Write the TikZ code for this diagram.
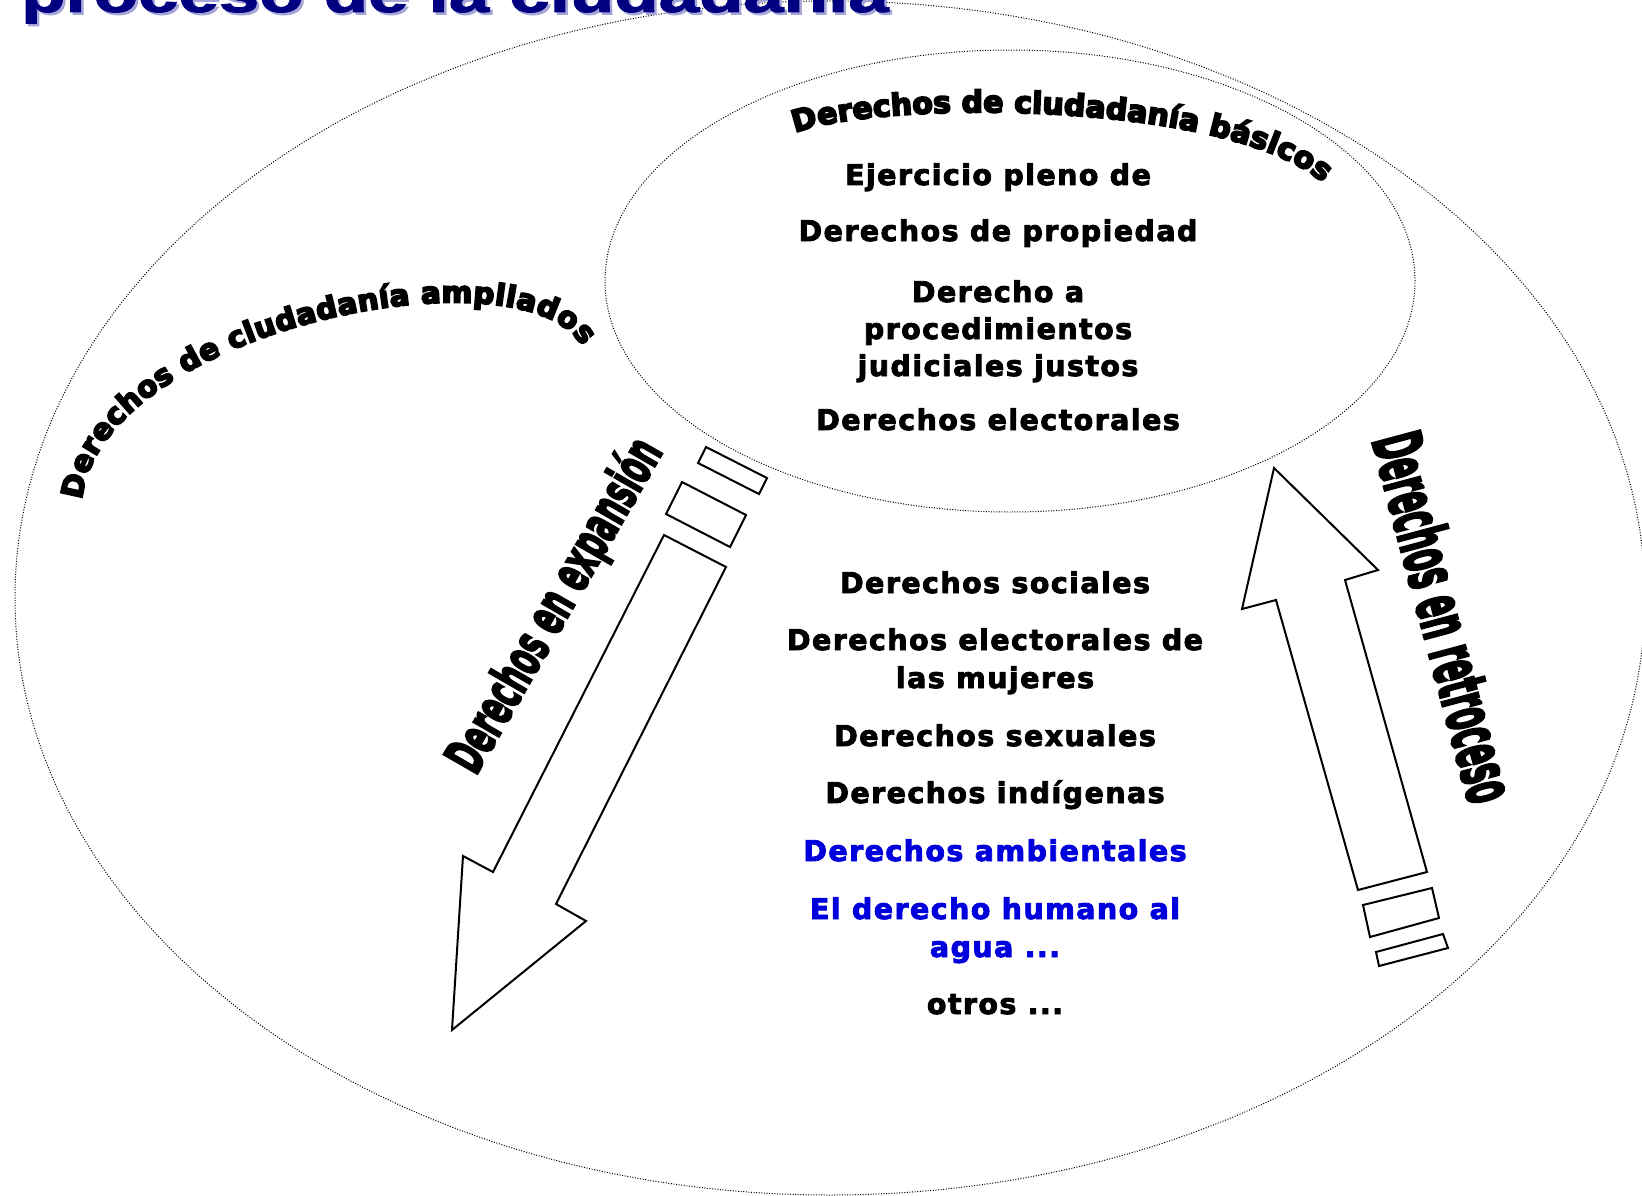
\documentclass[tikz,border=0pt]{standalone}
\usepackage{fontspec}
\usepackage{graphicx}
\setmainfont{DejaVu Sans}
\newfontfamily\titlefont[FakeBold=1.5]{Liberation Sans}
\newfontfamily\itemfont[LetterSpace=5, FakeBold=3]{DejaVu Sans}
\newfontfamily\archfont[FakeBold=6]{DejaVu Sans}
\newfontfamily\condfont[FakeBold=4.5]{DejaVu Sans}
\usetikzlibrary{decorations.text}
\definecolor{navy}{RGB}{0,0,128}
\definecolor{navyshadow}{RGB}{165,165,215}
\definecolor{itemblue}{RGB}{0,0,220}
\newcommand\arcfontA{\archfont\bfseries\fontsize{30}{30}\selectfont}
\newcommand\arcfontB{\archfont\bfseries\fontsize{29.5}{30}\selectfont}
\begin{document}
\begin{tikzpicture}[x=1pt,y=-1pt,
  ring/.style={draw=black, line width=1pt, dash pattern=on 1pt off 1.6pt},
  hollow/.style={draw=black, line width=2pt, fill=white, line join=miter},
  item/.style={anchor=base, inner sep=0pt, font=\itemfont\bfseries\fontsize{28.5}{30}\selectfont},
  blueitem/.style={item, text=itemblue},
  bigword/.style={inner sep=0pt}]
\useasboundingbox (0,0) rectangle (1642,1196);
\clip (0,0) rectangle (1642,1196);

% ellipses
\draw[ring] (830,598) ellipse [x radius=815pt, y radius=597pt];
\draw[ring] (1010,281) ellipse [x radius=405pt, y radius=231pt];

% title (cut at the top)
\node[anchor=base west, inner sep=0pt, text=navyshadow] (titleshadow) at (23.5,14.5)
  {\scalebox{1.32}[1]{\titlefont\bfseries\fontsize{55}{60}\selectfont proceso de la ciudadanía}};
\node[anchor=base west, inner sep=0pt, text=navy] (title) at (21,12)
  {\scalebox{1.32}[1]{\titlefont\bfseries\fontsize{55}{60}\selectfont proceso de la ciudadanía}};

% arched texts
\path[decorate, decoration={text along path, text align={fit to path},
  text={|\arcfontA|Derechos de ciudadanía básicos}}]
  (795,133) .. controls (880,100) and (1225,100) .. (1322,182);
\path[decorate, decoration={text along path, text align={fit to path},
  text={|\arcfontB|Derechos de ciudadanía ampliados}}]
  (82,500) .. controls (100,330) and (523,245) .. (582,346);

% basic rights
\node[item] (ej)    at (998,185) {Ejercicio pleno de};
\node[item] (prop)  at (998,241) {Derechos de propiedad};
\node[item] (proc1) at (998,302) {Derecho a};
\node[item] (proc2) at (998,339) {procedimientos};
\node[item] (proc3) at (998,376) {judiciales justos};
\node[item] (elec)  at (998,430) {Derechos electorales};

% extended rights
\node[item] (soc)   at (995,593) {Derechos sociales};
\node[item] (muj1)  at (995,650) {Derechos electorales de};
\node[item] (muj2)  at (995,688) {las mujeres};
\node[item] (sex)   at (995,746) {Derechos sexuales};
\node[item] (ind)   at (995,803) {Derechos indígenas};
\node[blueitem] (amb)   at (995,861) {Derechos ambientales};
\node[blueitem] (agua1) at (995,919) {El derecho humano al};
\node[blueitem] (agua2) at (995,957) {agua ...};
\node[item] (otros) at (995,1014) {otros ...};

% expansion arrow (down-left) with its two bars
\draw[hollow] (706,447) -- (767,478) -- (759,494) -- (698,463) -- cycle;
\draw[hollow] (682,482) -- (746,515) -- (730,547) -- (666,514) -- cycle;
\draw[hollow] (664,535) -- (726,567) -- (556,904) -- (586,921) -- (452,1030)
  -- (463,856) -- (493,872) -- cycle;

% retroceso arrow (up) with its two bars
\draw[hollow] (1274,468) -- (1378,570) -- (1345,580) -- (1427,872) -- (1358,890)
  -- (1276,600) -- (1242,609) -- cycle;
\draw[hollow] (1363,905) -- (1432,888) -- (1439,918) -- (1370,937) -- cycle;
\draw[hollow] (1376,952) -- (1443,934) -- (1448,948) -- (1379,966) -- cycle;

% condensed labels
\node[bigword, rotate=60] (expansion) at (556,606)
  {\scalebox{0.54}[1]{\condfont\bfseries\fontsize{53}{55}\selectfont Derechos en expansión}};
\node[bigword, rotate=-75] (retroceso) at (1445,617)
  {\scalebox{0.445}[1]{\condfont\bfseries\fontsize{67}{70}\selectfont Derechos en retroceso}};
\end{tikzpicture}
\end{document}
